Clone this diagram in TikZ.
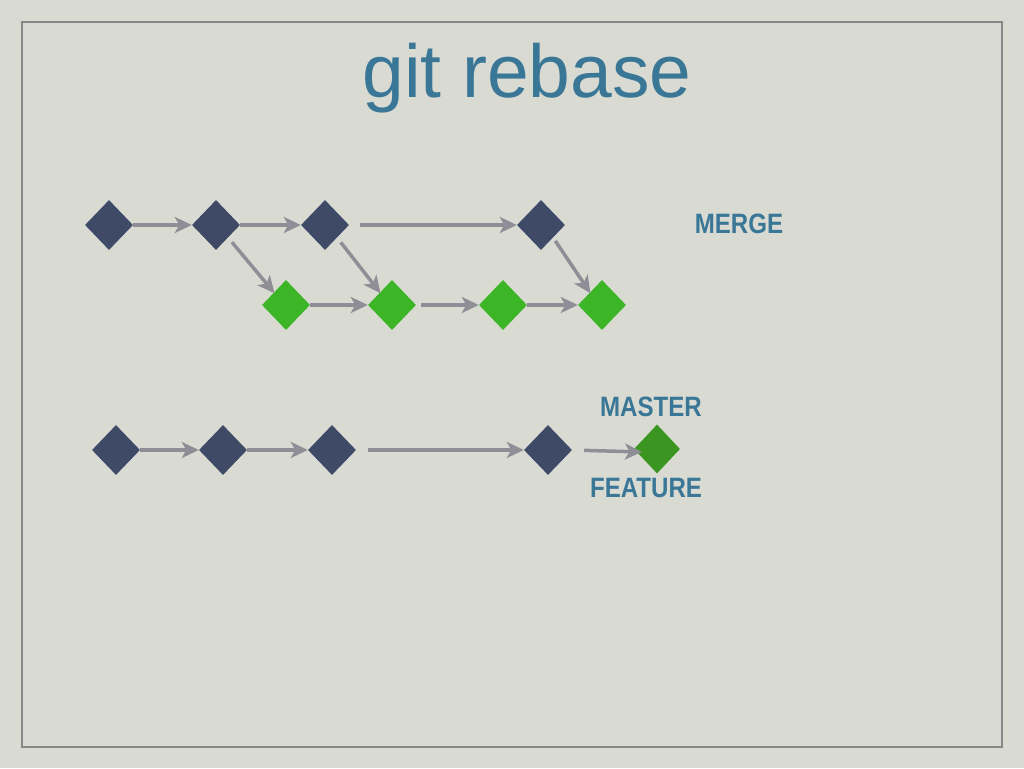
\documentclass[tikz,border=0pt]{standalone}
\usepackage{fontspec}
\setmainfont{Liberation Sans}
\usetikzlibrary{shapes.geometric,arrows.meta}
\definecolor{bgc}{HTML}{D9DBD3}
\definecolor{framec}{HTML}{878787}
\definecolor{darkc}{HTML}{3E4A66}
\definecolor{greenc}{HTML}{3CB526}
\definecolor{dgreenc}{HTML}{3A9620}
\definecolor{arrc}{HTML}{8F8E96}
\definecolor{textc}{HTML}{3A7797}
\tikzset{
  commit/.style={diamond, draw=none, inner sep=0pt, minimum width=48pt, minimum height=50pt, fill=darkc},
  gcommit/.style={commit, fill=greenc},
  dgcommit/.style={commit, fill=dgreenc, minimum width=46pt, minimum height=49pt},
  link/.style={draw=arrc, line width=3.5pt, -{Stealth[length=17pt,width=16pt,inset=4.5pt]}},
  lbl/.style={text=textc, font=\bfseries\fontsize{28}{30}\selectfont, inner sep=0pt},
}
\newcommand{\cond}[1]{\scalebox{0.86}[1]{#1}}
\begin{document}
\begin{tikzpicture}[x=1pt,y=-1pt]
\useasboundingbox (0,0) rectangle (1024,768);
\fill[bgc] (0,0) rectangle (1024,768);
\draw[framec, line width=1.5pt] (22,22) rectangle (1002,747);
\node[text=textc, font=\fontsize{75}{80}\selectfont, anchor=base, inner sep=0pt] (title) at (527,97) {git rebase};

% top: merge
\node[commit] (a1) at (109,225) {};
\node[commit] (a2) at (216,225) {};
\node[commit] (a3) at (325,225) {};
\node[commit] (a4) at (541,225) {};
\node[gcommit] (g1) at (286,305) {};
\node[gcommit] (g2) at (392,305) {};
\node[gcommit] (g3) at (503,305) {};
\node[gcommit] (g4) at (602,305) {};
\node[lbl] (merge) at (739,224) {\cond{MERGE}};

\draw[link] (a1.east) -- (a2.west);
\draw[link] (a2.east) -- (a3.west);
\draw[link, shorten <=11pt] (a3.east) -- (a4.west);
\draw[link] (g1.east) -- (g2.west);
\draw[link, shorten <=5pt] (g2.east) -- (g3.west);
\draw[link] (g3.east) -- (g4.west);
\draw[link, shorten <=6pt, shorten >=-1pt] (a2.south east) -- (g1.north west);
\draw[link, shorten <=6pt, shorten >=-1pt] (a3.south east) -- (g2.north west);
\draw[link, shorten <=4pt, shorten >=-1pt] (a4.south east) -- (g4.north west);

% bottom: rebase
\node[commit] (b1) at (116,450) {};
\node[commit] (b2) at (223,450) {};
\node[commit] (b3) at (332,450) {};
\node[commit] (b4) at (548,450) {};
\node[dgcommit] (f1) at (657,449) {};
\node[lbl] (master) at (651,407) {\cond{MASTER}};
\node[lbl] (feature) at (646,488) {\cond{FEATURE}};

\draw[link] (b1.east) -- (b2.west);
\draw[link] (b2.east) -- (b3.west);
\draw[link, shorten <=12pt] (b3.east) -- (b4.west);
\coordinate (fin) at (642,452);
\draw[link, shorten <=12pt] (b4.east) -- (fin);
\end{tikzpicture}
\end{document}
